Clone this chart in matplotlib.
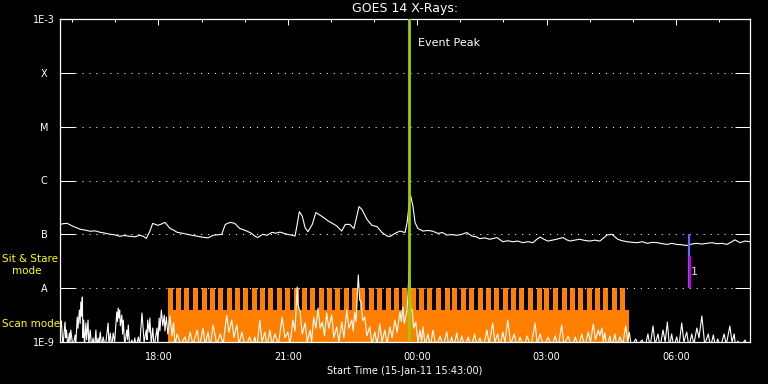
import matplotlib
matplotlib.use('Agg')
import matplotlib.pyplot as plt
import matplotlib.dates as mdates
from matplotlib.ticker import NullLocator
import numpy as np

# start of plot, minutes are counted from here
START = np.datetime64('2011-01-15T15:43')
SPAN_MIN = 960

# long channel (1-8 A), minutes after start / flux in 1e-7 W/m^2
LONG_MIN = [0, 5, 10, 14, 18, 23, 28, 35, 42, 49,
            56, 63, 70, 76, 83, 90, 97, 104, 111, 116,
            120, 125, 129, 136, 141, 146, 153, 158, 163, 170,
            177, 184, 191, 199, 206, 213, 219, 225, 230, 237,
            243, 250, 255, 260, 266, 271, 275, 282, 288, 295,
            300, 306, 311, 316, 322, 327, 330, 333, 337, 341,
            345, 351, 356, 360, 365, 369, 373, 379, 385, 392,
            397, 403, 409, 413, 416, 420, 427, 434, 441, 448,
            455, 459, 466, 473, 480, 483, 486, 488, 491, 494,
            498, 505, 511, 518, 526, 532, 538, 545, 552, 559,
            566, 573, 579, 584, 591, 598, 603, 608, 616, 623,
            630, 637, 644, 651, 658, 663, 668, 674, 679, 685,
            691, 695, 700, 705, 710, 716, 723, 730, 737, 744,
            751, 756, 761, 768, 772, 776, 782, 789, 796, 803,
            810, 817, 824, 831, 838, 845, 851, 858, 865, 872,
            879, 886, 893, 900, 907, 914, 921, 928, 934, 939,
            943, 946, 953, 960]
LONG_FLUX = [1.53, 1.58, 1.60, 1.50, 1.41, 1.33, 1.24, 1.20, 1.14, 1.16,
             1.09, 1.05, 1.00, 0.98, 0.92, 0.95, 0.92, 0.90, 0.96, 0.92,
             0.84, 1.14, 1.60, 1.47, 1.55, 1.67, 1.29, 1.20, 1.09, 1.05,
             1.00, 0.96, 0.92, 0.88, 0.86, 0.96, 0.98, 1.00, 1.53, 1.67,
             1.60, 1.29, 1.22, 1.15, 1.05, 0.93, 0.87, 1.00, 0.96, 1.09,
             1.05, 1.10, 1.05, 1.00, 0.97, 0.93, 1.53, 2.64, 2.18, 1.33,
             1.12, 1.53, 2.54, 2.35, 2.13, 1.95, 1.77, 1.60, 1.43, 1.15,
             1.53, 1.53, 1.28, 2.18, 3.27, 2.91, 1.90, 1.47, 1.39, 1.08,
             0.93, 0.91, 1.04, 1.15, 1.08, 1.67, 3.91, 5.14, 3.36, 1.65,
             1.28, 1.15, 1.18, 1.15, 1.04, 1.08, 0.97, 0.99, 0.96, 1.00,
             1.08, 0.93, 0.90, 0.83, 0.86, 0.81, 0.84, 0.87, 0.73, 0.76,
             0.73, 0.75, 0.70, 0.73, 0.70, 0.80, 0.89, 0.80, 0.75, 0.78,
             0.81, 0.84, 0.87, 0.79, 0.75, 0.78, 0.81, 0.77, 0.75, 0.78,
             0.75, 0.85, 0.97, 1.00, 0.90, 0.81, 0.76, 0.73, 0.71, 0.70,
             0.73, 0.68, 0.71, 0.70, 0.67, 0.65, 0.68, 0.65, 0.64, 0.62,
             0.66, 0.68, 0.66, 0.68, 0.70, 0.67, 0.68, 0.65, 0.72, 0.79,
             0.74, 0.70, 0.75, 0.73]

# short channel (0.5-4 A), minutes after start / flux in 1e-9 W/m^2
SHORT_MIN = [0, 2, 4, 7, 8, 9, 11, 13, 14, 15,
             18, 21, 22, 24, 25, 27, 28, 29, 30, 31,
             32, 33, 34, 36, 37, 39, 40, 42, 44, 46,
             48, 50, 51, 53, 54, 56, 58, 60, 63, 67,
             68, 70, 72, 74, 76, 79, 80, 81, 82, 83,
             84, 86, 87, 88, 90, 93, 94, 95, 97, 100,
             102, 104, 106, 109, 111, 114, 115, 117, 120, 121,
             122, 124, 125, 127, 129, 131, 135, 136, 138, 139,
             141, 143, 145, 146, 148, 150,
             153, 156, 158, 160, 163, 168, 174, 177, 181, 185,
             191, 194, 199, 202, 206, 209, 213, 218, 223, 227,
             232, 235, 239, 242, 246, 249, 253, 258, 264, 268,
             271, 274, 278, 281, 285, 288, 292, 295, 299, 304,
             309, 313, 317, 320, 324, 327, 330, 331, 334, 337,
             341, 344, 348, 350, 353, 356, 359, 362, 365, 368,
             371, 374, 378, 381, 385, 388, 392, 395, 399, 402,
             406, 408, 410, 412, 415, 417, 419, 421, 424, 427,
             431, 434, 438, 441, 445, 448, 452, 455, 459, 462,
             466, 469, 473, 475, 477, 479, 481, 483, 486, 487,
             488, 490, 492, 495, 498, 501, 503, 505, 508, 512,
             515, 519, 523, 529, 533, 538, 541, 545, 548, 552,
             555, 559, 563, 568, 572, 577, 580, 584, 589, 594,
             597, 602, 605, 609, 612, 616, 619, 623, 627, 632,
             636, 640, 645, 650, 655, 661, 664, 668, 673, 679,
             684, 689, 693, 698, 701, 707, 712, 717, 721, 726,
             730, 735, 738, 742, 745, 749, 751, 754, 756, 758,
             761, 765, 768, 772, 775, 779, 783, 787, 790, 792,
             795, 801, 804, 810, 814, 818, 821, 825, 828, 832,
             835, 839, 842, 845, 848, 851, 854, 858, 861, 865,
             868, 872, 875, 879, 882, 886, 889, 893, 897, 902,
             905, 909, 912, 915, 919, 924, 927, 932, 935, 938,
             940, 943, 947, 953, 957, 960]
SHORT_FLUX = [1.6, 2.46, 0.8, 2.35, 1.2, 1.67, 0.8, 1.47, 1.0, 1.67,
              0.8, 1.35, 0.9, 2.91, 1.8, 3.93, 2.2, 5.53, 3.0, 6.85,
              1.2, 2.56, 0.8, 2.25, 1.1, 2.56, 0.9, 1.67, 0.8, 1.19,
              0.8, 1.67, 0.8, 1.19, 0.8, 1.53, 0.8, 1.24, 0.8, 2.25,
              0.9, 1.47, 0.8, 1.47, 1.0, 3.61, 2.4, 4.28, 2.8, 3.93,
              2.0, 3.17, 1.4, 2.56, 0.9, 1.67, 1.1, 2.07, 0.8, 1.09,
              0.8, 1.19, 0.8, 1.24, 0.9, 3.45, 2.35, 1.0, 1.67, 1.1,
              2.56, 1.5, 2.79, 0.9, 1.82, 0.8, 1.82, 0.9, 2.79, 1.6,
              3.93, 2.0, 3.17, 1.6, 2.91, 1.4,
              3.04, 1.3, 2.3, 0.9, 1.41, 0.9, 1.24, 0.8, 1.53, 0.9,
              1.67, 0.8, 1.82, 0.9, 1.53, 0.8, 2.07, 0.9, 1.41, 0.9,
              3.17, 1.5, 2.56, 1.2, 2.07, 0.9, 1.53, 0.8, 1.24, 0.8,
              1.24, 0.8, 2.56, 1.0, 1.53, 0.8, 1.67, 0.9, 1.41, 0.9,
              2.91, 1.2, 1.53, 0.9, 2.56, 1.6, 10.5, 5.0, 3.61, 1.4,
              2.25, 1.0, 1.67, 1.0, 2.91, 1.8, 4.28, 1.8, 2.35, 1.3,
              3.45, 1.8, 3.17, 1.2, 1.90, 1.0, 2.35, 1.2, 3.93, 1.8,
              2.56, 1.6, 3.61, 2.4, 17.6, 6.0, 5.53, 2.5, 2.91, 1.3,
              1.90, 0.9, 1.53, 0.9, 2.16, 1.0, 1.67, 0.9, 1.90, 1.2,
              2.56, 1.5, 3.61, 2.4, 4.47, 2.2, 2.91, 4.0, 24.7, 8.0,
              4.0, 3.93, 1.8, 2.35, 1.0, 1.67, 1.0, 1.90, 0.9, 1.41,
              0.8, 1.67, 0.8, 1.29, 0.8, 1.53, 0.8, 1.24, 0.8, 1.47,
              0.8, 1.29, 0.8, 1.24, 0.8, 1.41, 0.8, 1.19, 0.8, 1.67,
              0.9, 2.25, 1.0, 1.41, 0.8, 1.53, 1.0, 2.56, 0.9, 1.41,
              0.8, 1.24, 0.8, 1.29, 0.8, 2.25, 0.9, 1.41, 0.8, 1.24,
              0.8, 1.29, 0.8, 2.07, 0.9, 1.29, 0.8, 1.24, 0.8, 1.41,
              0.8, 1.53, 1.0, 2.16, 1.1, 1.67, 1.3, 1.82, 1.0, 1.47,
              0.8, 1.29, 0.8, 1.41, 0.8, 1.24, 0.9, 1.98, 1.0, 1.53,
              0.8, 1.14, 0.9, 1.09, 0.8, 1.41, 0.8, 1.98, 0.9, 1.41,
              0.8, 1.67, 1.0, 2.35, 0.8, 1.41, 0.8, 1.24, 0.8, 2.25,
              1.0, 1.53, 0.8, 1.41, 0.9, 1.82, 1.2, 3.04, 0.9, 1.41,
              0.8, 1.35, 0.8, 1.14, 0.8, 1.41, 0.9, 1.98, 1.0, 1.41,
              0.8, 1.04, 0.8, 1.09, 0.8, 0.8]

# instrument mode: scan interval and the sit & stare windows inside it
SCAN_START_MIN = 150
SCAN_END_MIN = 792
SCAN_LEVEL = 3.9e-9
STARE_LEVEL = 1e-8
STARE_LEN_MIN = 7
STARE_START_MIN = [150, 162, 173, 185, 197, 208, 220, 232, 243, 255,
                   267, 278, 290, 302, 313, 325, 336, 348, 360, 371,
                   383, 395, 406, 418, 430, 441, 453, 465, 476, 488,
                   500, 511, 523, 535, 546, 558, 569, 581, 593, 604,
                   616, 628, 639, 651, 663, 674, 686, 698, 709, 721,
                   733, 744, 756, 768, 779]

PEAK_MIN = 486
MARK_MIN = 875
MARK_BLUE = (1e-8, 1e-7)
MARK_MAGENTA = (1e-8, 4e-8)
MARK_LABEL = '1'

CLASS_LEVELS = [1e-9, 1e-8, 1e-7, 1e-6, 1e-5, 1e-4, 1e-3]
CLASS_LABELS = ['1E-9', 'A', 'B', 'C', 'M', 'X', '1E-3']
GRID_LEVELS = [1e-8, 1e-7, 1e-6, 1e-5, 1e-4]

ORANGE = '#ff8000'
GREEN = '#9acd00'


def to_num(mins):
    t = START + np.asarray(mins).astype('timedelta64[m]')
    return mdates.date2num(t)


fig = plt.figure(figsize=(7.68, 3.84), dpi=100, facecolor='black')
ax = fig.add_axes([60 / 768, 42 / 384, 690 / 768, 323 / 384], facecolor='black')
ax.set_yscale('log')

# mode strip
ax.fill_between(to_num([SCAN_START_MIN, SCAN_END_MIN]), 1e-10, SCAN_LEVEL,
                color=ORANGE, lw=0, zorder=1)
ax.bar(to_num(STARE_START_MIN), STARE_LEVEL - SCAN_LEVEL,
       width=STARE_LEN_MIN / 1440, bottom=SCAN_LEVEL, align='edge',
       color=ORANGE, lw=0, zorder=1)

# dotted class lines
for lev in GRID_LEVELS:
    ax.axhline(lev, xmin=15 / 690, xmax=676 / 690, color='white', lw=0.75,
               ls=(0, (1, 5.7)), zorder=2)

ax.plot(to_num(LONG_MIN), np.array(LONG_FLUX) * 1e-7, color='white', lw=0.8, zorder=3)
ax.plot(to_num(SHORT_MIN), np.array(SHORT_FLUX) * 1e-9, color='white', lw=0.8, zorder=3)

# event peak
ax.axvline(to_num(PEAK_MIN), color=GREEN, lw=2, zorder=4)
ax.text(to_num(PEAK_MIN + 12), 10 ** -3.45, 'Event Peak', color='white',
        fontsize=8, va='center', ha='left')

# event marker
xm = to_num(MARK_MIN)
ax.vlines(xm, *MARK_BLUE, color='#6666ff', lw=1.6, zorder=4)
ax.vlines(xm + 1.2 / 1440, *MARK_MAGENTA, color='#cc00cc', lw=1.6, zorder=4)
ax.text(xm + 2 / 1440, 2e-8, MARK_LABEL, color='#e0d8ff', fontsize=8,
        va='center', ha='left')

ax.set_xlim(to_num(0), to_num(SPAN_MIN))
ax.set_ylim(1e-9, 1e-3)

ax.set_yticks(CLASS_LEVELS, CLASS_LABELS)
ax.yaxis.set_minor_locator(NullLocator())
ax.tick_params(axis='y', which='major', left=True, right=True, direction='in',
               length=10.8, width=0.75, colors='white', labelsize=7, pad=11.5)
for lab in ax.get_yticklabels():
    lab.set_horizontalalignment('center')

ax.xaxis.set_major_locator(mdates.HourLocator(byhour=range(0, 24, 3)))
ax.xaxis.set_minor_locator(mdates.HourLocator())
ax.xaxis.set_major_formatter(mdates.DateFormatter('%H:%M'))
ax.tick_params(axis='x', which='both', top=True, bottom=False, labelbottom=True,
               direction='in', colors='white', labelsize=7, width=0.75)
ax.tick_params(axis='x', which='major', length=4.3, pad=7)
ax.tick_params(axis='x', which='minor', length=2.5)

for s in ax.spines.values():
    s.set_color('white')
    s.set_linewidth(0.9)

ax.set_title('GOES 14 X-Rays:', color='white', fontsize=9, pad=5)
ax.set_xlabel('Start Time (15-Jan-11 15:43:00)', color='white', fontsize=7, labelpad=3)

fig.text(2 / 768, 1 - 259 / 384, 'Sit & Stare', color='yellow', fontsize=7.5,
         va='center', ha='left')
fig.text(12 / 768, 1 - 271 / 384, 'mode', color='yellow', fontsize=7.5,
         va='center', ha='left')
fig.text(2 / 768, 1 - 324 / 384, 'Scan mode', color='yellow', fontsize=7.5,
         va='center', ha='left')

fig.savefig('out.png', dpi=100, facecolor='black')
